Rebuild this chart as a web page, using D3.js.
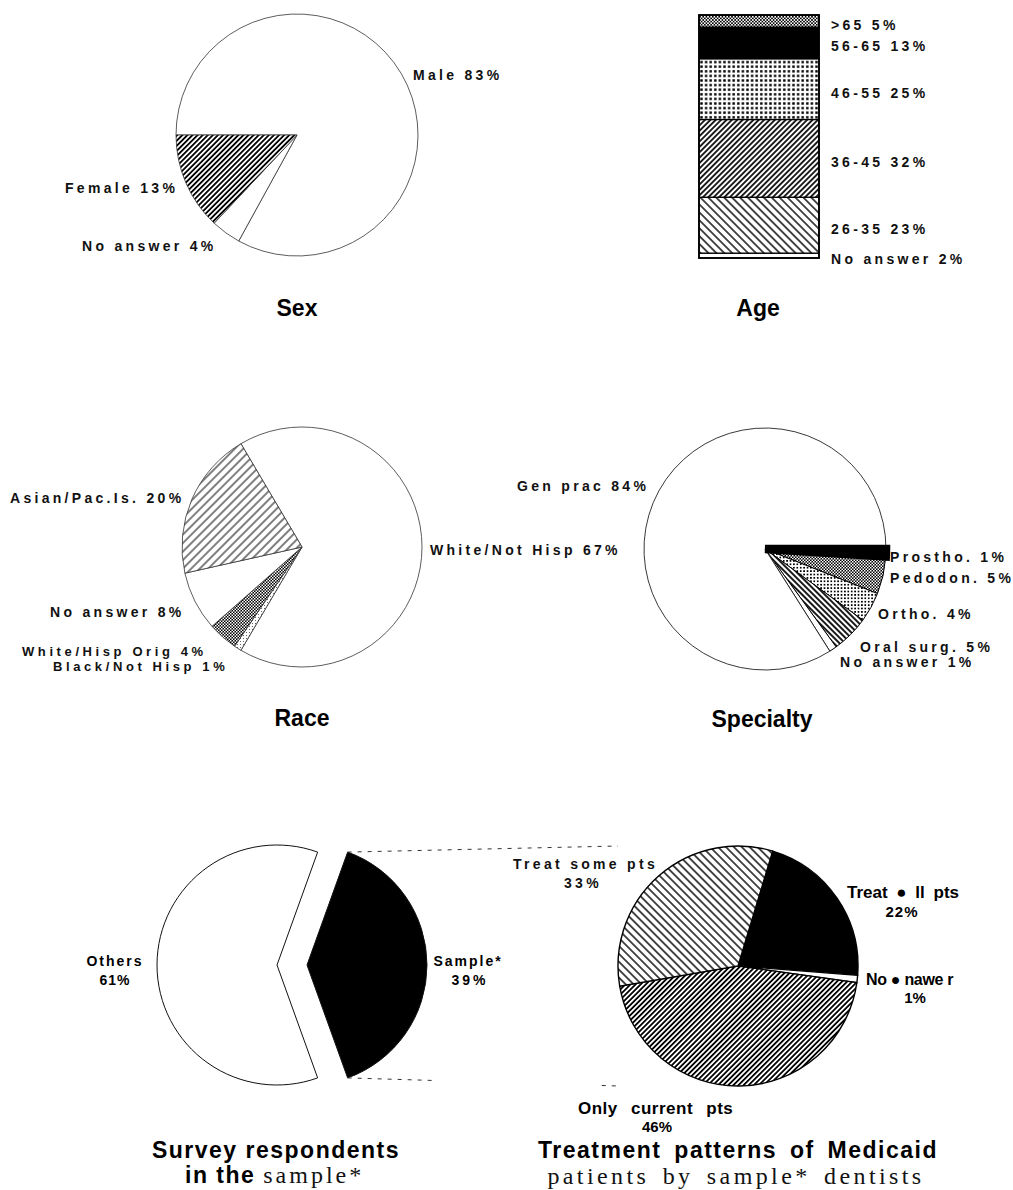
<!DOCTYPE html>
<html>
<head>
<meta charset="utf-8">
<script src="https://cdn.jsdelivr.net/npm/d3@7"></script>
<style>
  html, body { margin: 0; padding: 0; background: #fff; }
  svg { display: block; }
  .lab { font-family: "Liberation Sans", Arial, sans-serif; font-weight: bold; font-size: 14px; letter-spacing: 3.3px; fill: #111; }
  .ocr { font-family: "Liberation Sans", Arial, sans-serif; font-weight: bold; fill: #000; }
  .title { font-family: "Liberation Sans", Arial, sans-serif; font-weight: bold; font-size: 23px; fill: #000; }
  .serif { font-family: "Liberation Serif", "Times New Roman", serif; font-weight: normal; font-size: 24px; fill: #111; }
</style>
</head>
<body>
<svg id="chart" width="1013" height="1190"></svg>
<script>
// ---- Data ----
// Sex of respondents (pie, clockwise from the 9 o'clock position)
const sexCategories = ["Male", "No answer", "Female"];
const sexValues = [83, 4, 13];

// Age (stacked column, listed from the bottom up)
const ageCategories = ["No answer", "26-35", "36-45", "46-55", "56-65", ">65"];
const ageValues = [2, 23, 32, 25, 13, 5];

// Race
const raceCategories = ["White/Not Hisp", "Black/Not Hisp", "White/Hisp Orig", "No answer", "Asian/Pac.Is."];
const raceValues = [67, 1, 4, 8, 20];

// Specialty
const specialtyCategories = ["Prostho.", "Pedodon.", "Ortho.", "Oral surg.", "No answer", "Gen prac"];
const specialtyValues = [1, 5, 4, 5, 1, 84];

// Survey respondents in the sample
const surveyCategories = ["Sample*", "Others"];
const surveyValues = [39, 61];

// Treatment patterns of Medicaid patients
const treatmentCategories = ["Treat \u25CF ll pts", "No \u25CF nawe r", "Only current pts", "Treat some pts"];
const treatmentValues = [22, 1, 46, 33];

// ---- Drawing ----
const svg = d3.select("#chart");
const defs = svg.append("defs");
const deg = Math.PI / 180;

function hatch(id, size, angle, width) {
  const p = defs.append("pattern").attr("id", id)
    .attr("patternUnits", "userSpaceOnUse")
    .attr("width", size).attr("height", size)
    .attr("patternTransform", `rotate(${angle})`);
  p.append("rect").attr("width", size).attr("height", size).attr("fill", "#fff");
  p.append("line").attr("x1", size / 2).attr("y1", -1).attr("x2", size / 2).attr("y2", size + 1)
    .attr("stroke", "#000").attr("stroke-width", width);
}
function dots(id, size, dot, bg, fg) {
  const p = defs.append("pattern").attr("id", id)
    .attr("patternUnits", "userSpaceOnUse")
    .attr("width", size).attr("height", size);
  p.append("rect").attr("width", size).attr("height", size).attr("fill", bg);
  p.append("rect").attr("x", (size - dot) / 2).attr("y", (size - dot) / 2)
    .attr("width", dot).attr("height", dot).attr("fill", fg);
}
function checker(id, cell) {
  const p = defs.append("pattern").attr("id", id)
    .attr("patternUnits", "userSpaceOnUse")
    .attr("width", cell * 2).attr("height", cell * 2);
  p.append("rect").attr("width", cell * 2).attr("height", cell * 2).attr("fill", "#000");
  p.append("rect").attr("width", cell).attr("height", cell).attr("fill", "#fff");
  p.append("rect").attr("x", cell).attr("y", cell).attr("width", cell).attr("height", cell).attr("fill", "#fff");
}

hatch("fwdDense", 3.6, 45, 1.8);
hatch("fwdMid", 3.8, 45, 1.7);
hatch("fwdThin", 6, 45, 1.0);
hatch("backSparse", 5.6, -45, 1.4);
hatch("backDense", 4, -45, 1.8);
dots("dotsAge", 4.6, 2.4, "#fff", "#000");
dots("dotsOrtho", 3.4, 1.7, "#fff", "#000");
dots("dotsLight", 3, 1, "#fff", "#666");
checker("checkFine", 1.6);
checker("checkDark", 1.5);

// pie helper
function drawPie(cfg) {
  const g = svg.append("g");
  const data = cfg.values.map((v, i) => ({ value: v, i }));
  const arcs = d3.pie().sort(null).value(d => d.value)
    .startAngle(cfg.start).endAngle(cfg.start + 2 * Math.PI)(data);
  const arc = d3.arc().innerRadius(0).outerRadius(cfg.r);
  const off = cfg.explode || 0;
  arcs.forEach(d => {
    const m = (d.startAngle + d.endAngle) / 2;
    d.cx = cfg.cx + off * Math.sin(m);
    d.cy = cfg.cy - off * Math.cos(m);
  });
  const paths = g.selectAll("path").data(arcs).join("path")
    .attr("transform", d => `translate(${d.cx},${d.cy})`)
    .attr("d", arc)
    .attr("fill", d => cfg.fills[d.index])
    .attr("stroke", d => (cfg.strokes ? cfg.strokes[d.index] : cfg.stroke))
    .attr("stroke-width", d => (cfg.strokeWidths ? cfg.strokeWidths[d.index] : cfg.strokeWidth))
    .attr("stroke-linejoin", "miter");
  if (cfg.raise !== undefined) paths.filter(d => d.index === cfg.raise).raise();
  return arcs;
}

function label(x, y, text, cls, opts = {}) {
  const t = svg.append("text").attr("class", cls)
    .attr("x", x).attr("y", y).attr("dy", "0.36em")
    .attr("text-anchor", opts.anchor || "start")
    .text(text);
  if (opts.size) t.style("font-size", opts.size + "px");
  if (opts.ls !== undefined) t.style("letter-spacing", opts.ls + "px");
  if (opts.ws !== undefined) t.style("word-spacing", opts.ws + "px");
  return t;
}

// ---- Sex ----
drawPie({
  cx: 297, cy: 135, r: 121, start: 270 * deg,
  values: sexValues,
  fills: ["#fff", "#fff", "url(#fwdDense)"],
  stroke: "#333", strokeWidth: 0.8
});
const sexLabelPos = [[413, 75], [82, 246], [65, 188]];
sexCategories.forEach((c, i) =>
  label(sexLabelPos[i][0], sexLabelPos[i][1], `${c} ${sexValues[i]}%`, "lab"));
label(297, 308, "Sex", "title", { anchor: "middle" });

// ---- Age ----
const ageX = 699, ageW = 120;
const ageY = d3.scaleLinear().domain([0, d3.sum(ageValues)]).range([258, 15]);
const ageCum = d3.cumsum(ageValues);
const ageFills = ["#fff", "url(#backSparse)", "url(#fwdMid)", "url(#dotsAge)", "#000", "url(#checkFine)"];
const ageG = svg.append("g");
ageG.selectAll("rect").data(ageValues).join("rect")
  .attr("x", ageX)
  .attr("y", (d, i) => ageY(ageCum[i]))
  .attr("width", ageW)
  .attr("height", (d, i) => ageY(ageCum[i] - d) - ageY(ageCum[i]))
  .attr("fill", (d, i) => ageFills[i])
  .attr("stroke", "#000").attr("stroke-width", 1.3);
ageG.append("rect").attr("x", ageX).attr("y", ageY(d3.sum(ageValues)))
  .attr("width", ageW).attr("height", ageY(0) - ageY(d3.sum(ageValues)))
  .attr("fill", "none").attr("stroke", "#000").attr("stroke-width", 1.8);
ageCategories.forEach((c, i) => {
  const mid = ageY(ageCum[i] - ageValues[i] / 2);
  label(831, mid + 3.5, `${c} ${ageValues[i]}%`, "lab");
});
label(758, 308, "Age", "title", { anchor: "middle" });

// ---- Race ----
drawPie({
  cx: 302, cy: 547, r: 120, start: -30.6 * deg,
  values: raceValues,
  fills: ["#fff", "url(#dotsLight)", "url(#checkDark)", "#fff", "url(#fwdThin)"],
  stroke: "#333", strokeWidth: 0.8
});
const raceLabelPos = [[430, 550], [53, 666], [22, 651], [50, 612], [10, 498]];
const raceLabelSize = [14, 13, 13, 14, 14];
raceCategories.forEach((c, i) =>
  label(raceLabelPos[i][0], raceLabelPos[i][1], `${c} ${raceValues[i]}%`, "lab",
    { size: raceLabelSize[i], ls: raceLabelSize[i] === 13 ? 3.6 : 3.3 }));
label(302, 718, "Race", "title", { anchor: "middle" });

// ---- Specialty ----
drawPie({
  cx: 765, cy: 549, r: 121, start: 90 * deg,
  values: specialtyValues,
  fills: ["#000", "url(#checkDark)", "url(#dotsOrtho)", "url(#backDense)", "#fff", "#fff"],
  strokes: ["#000", "#000", "#000", "#000", "#000", "#222"],
  strokeWidths: [8.5, 1, 1, 1, 1, 0.9],
  raise: 0
});
const specLabelPos = [[890, 557], [890, 578], [878, 614], [860, 647], [840, 662], [517, 486]];
specialtyCategories.forEach((c, i) =>
  label(specLabelPos[i][0], specLabelPos[i][1], `${c} ${specialtyValues[i]}%`, "lab"));
label(762, 719, "Specialty", "title", { anchor: "middle" });

// ---- Survey respondents (exploded pie) ----
const surveyR = 120;
const surveyArcs = drawPie({
  cx: 292, cy: 965, r: surveyR, start: 19.8 * deg, explode: 15,
  values: surveyValues,
  fills: ["#000", "#fff"],
  stroke: "#111", strokeWidth: 1
});
label(468, 961, surveyCategories[0], "ocr", { anchor: "middle", size: 14, ls: 2 });
label(470, 980, `${surveyValues[0]}%`, "ocr", { anchor: "middle", size: 14, ls: 3 });
label(115, 961, surveyCategories[1], "ocr", { anchor: "middle", size: 14, ls: 2 });
label(115, 980, `${surveyValues[1]}%`, "ocr", { anchor: "middle", size: 14, ls: 1 });

// ---- Treatment patterns ----
const tCx = 738, tCy = 966, tR = 120;
drawPie({
  cx: tCx, cy: tCy, r: tR, start: 16.8 * deg,
  values: treatmentValues,
  fills: ["#000", "#fff", "url(#fwdDense)", "url(#backSparse)"],
  stroke: "#000", strokeWidth: 1.4
});

// dashed connectors from the Sample wedge to the breakdown pie
const s = surveyArcs[0];
const sTop = [s.cx + surveyR * Math.sin(s.startAngle), s.cy - surveyR * Math.cos(s.startAngle)];
const sBot = [s.cx + surveyR * Math.sin(s.endAngle), s.cy - surveyR * Math.cos(s.endAngle)];
const cTop = [tCx - tR, tCy - tR];
const cBot = [tCx - tR, tCy + tR];
const lerp = (a, b, t) => [a[0] + (b[0] - a[0]) * t, a[1] + (b[1] - a[1]) * t];
const conn = svg.append("g").attr("stroke", "#333").attr("stroke-width", 1)
  .attr("stroke-dasharray", "4,6").attr("fill", "none");
conn.append("line").attr("x1", sTop[0]).attr("y1", sTop[1]).attr("x2", cTop[0]).attr("y2", cTop[1]);
[[0, 0.32], [0.94, 1]].forEach(([a, b]) => {
  const p0 = lerp(sBot, cBot, a), p1 = lerp(sBot, cBot, b);
  conn.append("line").attr("x1", p0[0]).attr("y1", p0[1]).attr("x2", p1[0]).attr("y2", p1[1]);
});

label(513, 864, treatmentCategories[3], "lab");
label(583, 883, `${treatmentValues[3]}%`, "lab", { anchor: "middle" });
label(847, 892, treatmentCategories[0], "ocr", { size: 17, ws: 4 });
label(902, 912, `${treatmentValues[0]}%`, "ocr", { anchor: "middle", size: 15, ls: 1 });
label(866, 979, treatmentCategories[1], "ocr", { size: 16, ls: -0.3 });
label(915, 998, `${treatmentValues[1]}%`, "ocr", { anchor: "middle", size: 15 });
label(578, 1108, treatmentCategories[2], "ocr", { size: 17, ls: 0.5, ws: 8 });
label(657, 1127, `${treatmentValues[2]}%`, "ocr", { anchor: "middle", size: 15 });

// ---- Bottom titles ----
svg.append("text").attr("class", "title").attr("x", 276).attr("y", 1158)
  .attr("text-anchor", "middle").style("letter-spacing", "1.5px")
  .text("Survey respondents");
const t2 = svg.append("text").attr("class", "title").attr("x", 185).attr("y", 1183)
  .style("letter-spacing", "1.5px");
t2.append("tspan").text("in the ");
t2.append("tspan").attr("class", "serif").style("letter-spacing", "3px").text("sample*");

svg.append("text").attr("class", "title").attr("x", 738).attr("y", 1158)
  .attr("text-anchor", "middle").style("letter-spacing", "1.5px").style("word-spacing", "5px")
  .text("Treatment patterns of Medicaid");
svg.append("text").attr("class", "serif").attr("x", 736).attr("y", 1184)
  .attr("text-anchor", "middle").style("letter-spacing", "3.4px").style("word-spacing", "4px")
  .text("patients by sample* dentists");
</script>
</body>
</html>
